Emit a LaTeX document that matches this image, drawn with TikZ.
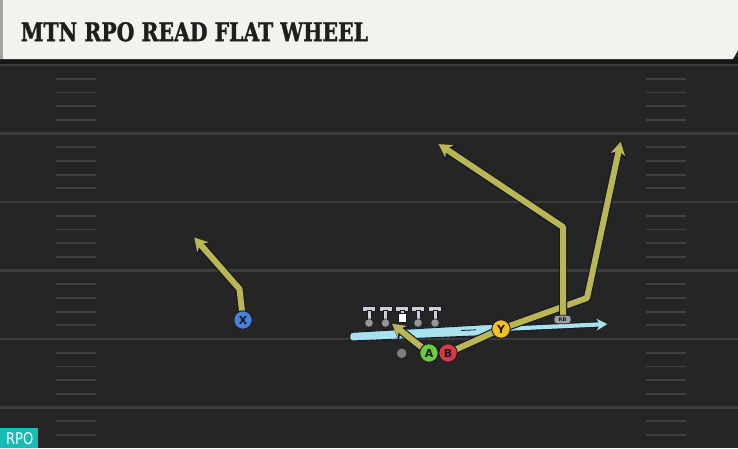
\documentclass[tikz,border=0pt]{standalone}
\usepackage{fontspec}
\usetikzlibrary{arrows.meta}
\newfontfamily\titlefont[FakeBold=1.5]{DejaVu Serif Condensed}
\newfontfamily\labelfont{DejaVu Sans}
\definecolor{fieldbg}{HTML}{252525}
\definecolor{bandbg}{HTML}{171717}
\definecolor{headbg}{HTML}{F4F2EC}
\definecolor{headedge}{HTML}{A3A3A3}
\definecolor{yardline}{HTML}{3C3C3C}
\definecolor{hashline}{HTML}{404040}
\definecolor{outline}{HTML}{16182A}
\definecolor{routecol}{HTML}{BAB652}
\definecolor{motioncol}{HTML}{A8E2EF}
\definecolor{xcol}{HTML}{4682D8}
\definecolor{acol}{HTML}{6CCB3C}
\definecolor{bcol}{HTML}{D83A3F}
\definecolor{ycol}{HTML}{F1C21C}
\definecolor{linecol}{HTML}{CFCFCF}
\definecolor{dotcol}{HTML}{959595}
\definecolor{qbcol}{HTML}{7E7E7E}
\definecolor{rbcol}{HTML}{A0A0A0}
\definecolor{tealcol}{HTML}{17BDB5}
\definecolor{titlecol}{HTML}{1E1E1E}
\begin{document}
\begin{tikzpicture}[x=1pt,y=-1pt,
  player/.style={circle, draw=outline, line width=0.9pt, minimum size=18.5pt, inner sep=0pt,
    font=\labelfont\bfseries\fontsize{11}{11}\selectfont, text=outline},
  route/.style={draw=routecol, line width=6pt, line join=round, line cap=butt,
    preaction={draw=outline, line width=8pt}},
  routetip/.style={-{Stealth[length=13pt,width=15pt,inset=4pt,line width=0pt]},
    preaction={draw=outline, line width=8pt,
      -{Stealth[length=16pt,width=19pt,inset=5pt,line width=0pt]}},
    shorten >=2pt},
  motion/.style={draw=motioncol, line width=4.2pt, line join=round,
    -{Stealth[length=11pt,width=12pt,inset=3.5pt,line width=0pt]},
    preaction={draw=outline, line width=6pt,
      -{Stealth[length=13.5pt,width=15pt,inset=4.5pt,line width=0pt]}},
    shorten >=1.6pt},
  yard/.style={draw=yardline, line width=2.2pt},
  hash/.style={draw=hashline, line width=1.8pt},
  tbar/.style={fill=linecol, draw=outline, line width=0.6pt},
  ldot/.style={circle, fill=dotcol, draw=outline, line width=0.5pt, minimum size=8.5pt, inner sep=0pt}
]
\useasboundingbox (0,0) rectangle (738,448);
% field
\fill[fieldbg] (0,0) rectangle (738,448);
\fill[bandbg] (0,57) rectangle (738,64);
% header
\fill[headbg] (0,0) -- (738,0) -- (738,50) -- (733,59) -- (0,59) -- cycle;
\fill[headedge] (0,0) rectangle (3,59);
\node[anchor=south west, inner sep=0pt, text=titlecol] (title) at (20.7,41.7)
  {\resizebox{347pt}{19pt}{\titlefont\bfseries MTN RPO READ FLAT WHEEL}};
% yard lines
\foreach \yy in {65,133.5,202,270.5,339,407.5} {
  \draw[yard] (0,\yy) -- (738,\yy);
}
% hash marks
\foreach \yy in {65,133.5,202,270.5,339} {
  \foreach \k in {1,2,3,4} {
    \draw[hash] (56,\yy+13.7*\k) -- (96,\yy+13.7*\k);
    \draw[hash] (646,\yy+13.7*\k) -- (686,\yy+13.7*\k);
  }
}
\foreach \k in {1,2} {
  \draw[hash] (56,407.5+13.7*\k) -- (96,407.5+13.7*\k);
  \draw[hash] (646,407.5+13.7*\k) -- (686,407.5+13.7*\k);
}
% RPO tag
\fill[tealcol] (0,428) rectangle (38,448);
\node[anchor=south west, inner sep=0pt, text=white] (rpo) at (6,445)
  {\resizebox{27pt}{12pt}{\labelfont RPO}};
% named coordinates
\coordinate (Xc) at (243,320);
\coordinate (Xk) at (239.5,289);
\coordinate (Xt) at (193,236);
\coordinate (Ac) at (429,353);
\coordinate (At) at (390.5,322.5);
\coordinate (Bc) at (448,353);
\coordinate (Yc) at (501,329);
\coordinate (Yk) at (587,298);
\coordinate (Yt) at (621,140);
\coordinate (Rc) at (563,317);
\coordinate (Rk) at (563,227);
\coordinate (Rt) at (437,143);
\coordinate (Mt) at (609,324);
% motion (cyan)
\filldraw[fill=motioncol, draw=outline, line width=0.9pt, rounded corners=2.5pt]
  (350,332.5) -- (498,324) -- (498,335) -- (350,341) -- cycle;
\draw[outline, line width=0.8pt] (461,330.5) -- (476,329.8);
\draw[motion] (Yc) -- (Mt);
% linemen
\foreach \lx [count=\i] in {369,385.5,402,418,435} {
  \fill[tbar] (\lx-6.5,306) rectangle (\lx+6.5,311);
  \fill[tbar] (\lx-2.2,310) rectangle (\lx+2.2,321);
  \ifnum\i=3
    \filldraw[fill=white, draw=outline, line width=0.5pt] (\lx-4.2,313.5) rectangle (\lx+4.2,322);
  \else
    \node[ldot] (ol\i) at (\lx,323) {};
  \fi
}
% routes
\draw[route, routetip] (Xc) -- (Xk) -- (Xt);
\draw[route, routetip] (Ac) -- (At);
\draw[route, routetip] (Bc) -- (Yc) -- (Yk) -- (Yt);
\draw[route, routetip] (Rc) -- (Rk) -- (Rt);
% players
\node[circle, fill=qbcol, minimum size=9.5pt, inner sep=0pt] (qb) at (401.7,353.3) {};
\node[player, fill=xcol] (X) at (Xc) {X};
\node[player, fill=acol] (A) at (Ac) {A};
\node[player, fill=bcol] (B) at (Bc) {B};
\node[player, fill=ycol] (Y) at (Yc) {Y};
\node[draw=outline, line width=0.6pt, fill=rbcol, rounded corners=3pt, minimum width=17pt,
  minimum height=8.5pt, inner sep=0pt, text=outline,
  font=\labelfont\bfseries\fontsize{5}{5}\selectfont] (RB) at (562.5,319.5) {RB};
\end{tikzpicture}
\end{document}
